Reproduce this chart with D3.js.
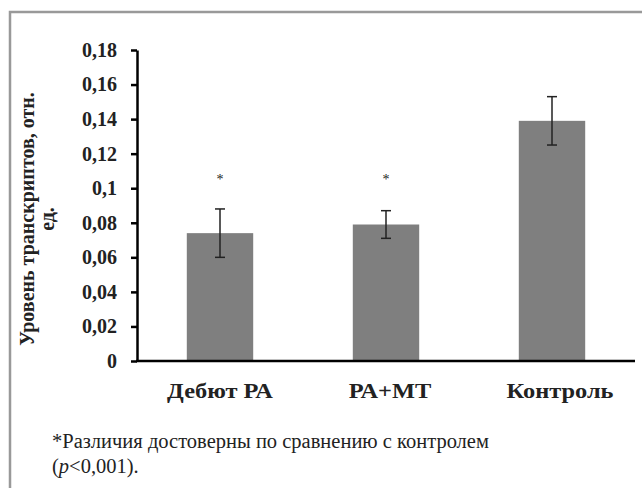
<!DOCTYPE html>
<html>
<head>
<meta charset="utf-8">
<script src="https://cdn.jsdelivr.net/npm/d3@7"></script>
<style>
  body { margin: 0; background: #fff; }
  svg { display: block; }
</style>
</head>
<body>
<script>
// chart values
var groups = ["Дебют РА", "РА+МТ", "Контроль"];
var means = [0.074, 0.079, 0.139];
var errLow = [0.060, 0.071, 0.125];
var errHigh = [0.088, 0.087, 0.153];
var starred = [true, true, false];
var yTicks = [0, 0.02, 0.04, 0.06, 0.08, 0.1, 0.12, 0.14, 0.16, 0.18];

var width = 642,
    height = 488;

var svg = d3.select("body")
    .append("svg")
    .attr("width", width)
    .attr("height", height);

// grey frame round the figure
svg.append("path")
    .attr("d", "M10,488 V12 H642")
    .attr("fill", "none")
    .attr("stroke", "#999")
    .attr("stroke-width", 2.5);

var x = d3.scaleBand()
    .domain(groups)
    .range([137, 635])
    .paddingInner(0.6)
    .paddingOuter(0.3);

var y = d3.scaleLinear()
    .domain([0, 0.18])
    .range([361, 50]);

var fmt = function(d) { return String(d).replace(".", ","); };
var mid = function(d) { return x(d) + x.bandwidth() / 2; };

// bars
svg.selectAll(".bar")
    .data(groups)
    .enter()
    .append("rect")
    .attr("class", "bar")
    .attr("x", function(d) { return x(d); })
    .attr("width", x.bandwidth())
    .attr("y", function(d, i) { return y(means[i]); })
    .attr("height", function(d, i) { return y(0) - y(means[i]); })
    .attr("fill", "#7f7f7f");

// error bars
var err = svg.selectAll(".err")
    .data(groups)
    .enter()
    .append("g")
    .attr("class", "err")
    .attr("stroke", "#222")
    .attr("stroke-width", 1.5);

err.append("line")
    .attr("x1", mid)
    .attr("x2", mid)
    .attr("y1", function(d, i) { return y(errLow[i]); })
    .attr("y2", function(d, i) { return y(errHigh[i]); });

[errLow, errHigh].forEach(function(arr) {
    err.append("line")
        .attr("x1", function(d) { return mid(d) - 5; })
        .attr("x2", function(d) { return mid(d) + 5; })
        .attr("y1", function(d, i) { return y(arr[i]); })
        .attr("y2", function(d, i) { return y(arr[i]); });
});

// significance stars
svg.selectAll(".star")
    .data(groups.filter(function(d, i) { return starred[i]; }))
    .enter()
    .append("text")
    .attr("class", "star")
    .attr("x", mid)
    .attr("y", y(0.1) - 4)
    .attr("text-anchor", "middle")
    .style("font", "14px 'Liberation Serif'")
    .attr("fill", "#222")
    .text("*");

// y axis
var yAxis = svg.append("g")
    .attr("transform", "translate(137,0)")
    .call(d3.axisLeft(y).tickValues(yTicks).tickFormat(fmt).tickSize(6).tickSizeOuter(0).tickPadding(14));

yAxis.select(".domain").attr("stroke-width", 2.5);
yAxis.selectAll(".tick line").attr("stroke-width", 2.5);
yAxis.selectAll(".tick text")
    .style("font", "bold 20px 'Liberation Serif'")
    .attr("fill", "#222");

// x axis line
svg.append("line")
    .attr("x1", 136)
    .attr("x2", 635)
    .attr("y1", y(0))
    .attr("y2", y(0))
    .attr("stroke", "#000")
    .attr("stroke-width", 2.5);

// category labels (stretched wide like the source)
svg.selectAll(".xlab")
    .data(groups)
    .enter()
    .append("text")
    .attr("class", "xlab")
    .attr("transform", function(d, i) { return "translate(" + (mid(d) + i * 4) + ",398) scale(1.22,1)"; })
    .attr("text-anchor", "middle")
    .style("font", "bold 20px 'Liberation Serif'")
    .attr("fill", "#222")
    .text(function(d) { return d; });

// y axis title, two lines
var title = svg.append("text")
    .attr("transform", "translate(0,219) rotate(-90)")
    .attr("text-anchor", "middle")
    .style("font", "bold 20px 'Liberation Serif'")
    .attr("fill", "#222");
title.append("tspan").attr("x", 0).attr("y", 34).text("Уровень транскриптов, отн.");
title.append("tspan").attr("x", 0).attr("y", 54).text("ед.");

// footnote
var note = svg.append("text")
    .style("font", "20.5px 'Liberation Serif'")
    .attr("fill", "#222");
note.append("tspan").attr("x", 52).attr("y", 448).text("*Различия достоверны по сравнению с контролем");
var l2 = note.append("tspan").attr("x", 52).attr("y", 473);
l2.text("(");
l2.append("tspan").style("font-style", "italic").text("p");
l2.append("tspan").text("<0,001).");
</script>
</body>
</html>
